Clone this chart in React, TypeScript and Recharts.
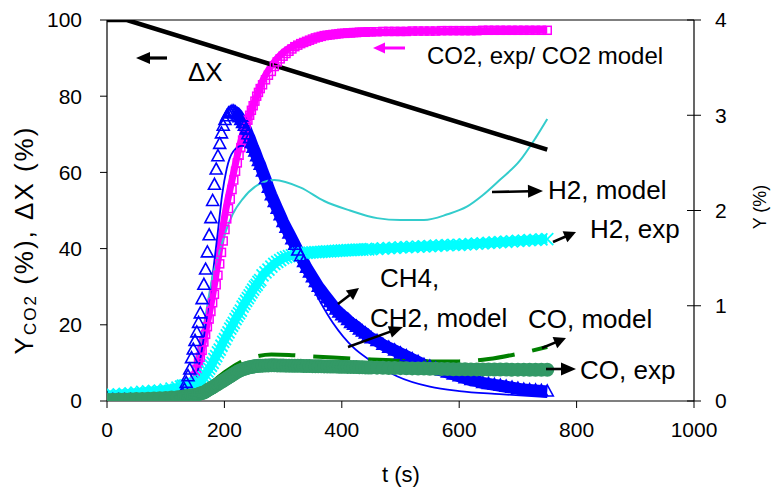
import React from 'react';
import { ComposedChart, Line, XAxis, YAxis, ReferenceLine } from 'recharts';

const FONT = "'Liberation Sans', Arial, Helvetica, sans-serif";

// ---- axes ----
const xTicks = [0, 200, 400, 600, 800, 1000];
const leftTicks = [0, 20, 40, 60, 80, 100];
const rightTicks = [0, 1, 2, 3, 4];

// ---- experimental sampling times (s) ----
const expT = [
  0, 10, 20, 30, 40, 50, 60, 70, 80, 90, 100, 110, 120,
  126, 129, 132, 135, 138, 141, 144, 147, 150, 153, 156, 159, 162, 165, 168, 171, 174, 177, 180, 183, 186, 189,
  192, 195, 198, 201, 204, 207, 210, 213, 216, 219, 222, 225, 228, 231, 234, 237, 240, 243, 246, 249, 252, 255, 258, 261,
  265, 270, 275, 280, 285, 290, 295, 300, 305, 310, 315, 320, 325, 330, 335, 340, 345, 350, 355, 360, 365, 370, 375,
  380, 385, 390, 395, 400, 405, 410, 415, 420, 425, 430, 435, 440, 445, 450,
  460, 470, 480, 490, 500, 510, 520, 530, 540, 550, 560, 570, 580, 590, 600, 610, 620, 630, 640, 650, 660, 670, 680,
  690, 700, 710, 720, 730, 740, 750,
];

// CO2 yield, exp (%; left axis)
const co2Exp = [
  0, 0, 0, 0, 0, 0, 0, 0, 0, 0, 0, 0, 0.1,
  0.2, 0.4, 0.7, 1.1, 1.6, 2.4, 3.5, 4.8, 6.5, 8.3, 10, 11.5, 13.3, 15.5, 17.5, 19.5, 21.5, 23.5, 25.8, 28, 30.5, 33,
  36, 39, 42, 45, 47.8, 50.5, 53, 55.5, 58, 60.3, 62.5, 64.5, 66.5, 68.5, 70.2, 72, 73.7, 75, 76.3, 77.5, 78.7, 80, 81, 82,
  83, 84.3, 85.5, 86.5, 87.8, 89, 89.8, 90.5, 91.2, 91.8, 92.4, 93, 93.4, 93.8, 94.1, 94.4, 94.7, 95, 95.3, 95.5, 95.7,
  95.9, 96, 96.1, 96.2, 96.3, 96.4, 96.5, 96.5, 96.6, 96.6, 96.7, 96.7, 96.8, 96.8, 96.8, 96.9, 96.9,
  96.9, 97, 97, 97, 97, 97, 97.1, 97.1, 97.1, 97.1, 97.1, 97.2, 97.2, 97.2, 97.2, 97.2, 97.2, 97.2, 97.3, 97.3, 97.3,
  97.3, 97.3, 97.3, 97.3, 97.3, 97.3, 97.3, 97.3, 97.3,
];

// CH4 yield, exp (%; right axis)
const ch4Exp = [
  0.01, 0.01, 0.01, 0.01, 0.01, 0.01, 0.01, 0.01, 0.01, 0.01, 0.01, 0.01, 0.01,
  0.04, 0.07, 0.12, 0.19, 0.26, 0.33, 0.45, 0.54, 0.63, 0.72, 0.82, 0.92, 1.07, 1.22, 1.38, 1.56, 1.74, 1.92, 2.1, 2.27,
  2.43, 2.57, 2.7, 2.81, 2.89, 2.95, 2.99, 3.02, 3.03, 3.04, 3.04, 3.03, 3.01, 2.98, 2.95, 2.92, 2.89, 2.85, 2.8, 2.76,
  2.71, 2.66, 2.62, 2.57, 2.52, 2.48,
  2.41, 2.33, 2.24, 2.16, 2.09, 2.02, 1.95, 1.88, 1.82, 1.76, 1.7, 1.64, 1.58, 1.52, 1.46, 1.4, 1.35, 1.3, 1.25, 1.2,
  1.16, 1.12, 1.08, 1.04, 1.0, 0.96, 0.93, 0.9, 0.88, 0.85, 0.82, 0.8, 0.78, 0.75, 0.73, 0.71, 0.68, 0.66,
  0.63, 0.59, 0.56, 0.53, 0.5, 0.47, 0.44, 0.41, 0.38, 0.36, 0.34, 0.32, 0.3, 0.28, 0.26, 0.24, 0.22, 0.21, 0.19, 0.18,
  0.17, 0.16, 0.15, 0.14, 0.13, 0.12, 0.115, 0.11, 0.105, 0.1,
];

// H2 yield, exp (%; right axis)
const h2Exp = [
  0.06, 0.065, 0.07, 0.075, 0.08, 0.088, 0.095, 0.1, 0.105, 0.11, 0.12, 0.13, 0.14,
  0.15, 0.16, 0.16, 0.165, 0.17, 0.17, 0.175, 0.18, 0.18, 0.19, 0.195, 0.2, 0.22, 0.25, 0.28, 0.31, 0.34, 0.37, 0.4,
  0.44, 0.47, 0.51, 0.54, 0.58, 0.62, 0.65, 0.69, 0.72, 0.76, 0.79, 0.82, 0.86, 0.89, 0.92, 0.95, 0.99, 1.02, 1.05,
  1.08, 1.11, 1.14, 1.17, 1.2, 1.22, 1.25, 1.27,
  1.32, 1.35, 1.38, 1.41, 1.44, 1.46, 1.48, 1.5, 1.51, 1.52, 1.53, 1.54, 1.545, 1.55, 1.553, 1.556, 1.558, 1.56, 1.562,
  1.564, 1.566, 1.568, 1.57, 1.572, 1.574, 1.576, 1.578, 1.58, 1.582, 1.583, 1.585, 1.586, 1.588, 1.589, 1.59, 1.592,
  1.593, 1.595,
  1.598, 1.601, 1.604, 1.608, 1.612, 1.615, 1.618, 1.621, 1.624, 1.627, 1.63, 1.633, 1.636, 1.638, 1.64, 1.644, 1.648,
  1.652, 1.656, 1.66, 1.664, 1.668, 1.672, 1.676, 1.68, 1.684, 1.688, 1.692, 1.696, 1.7,
];

// CO yield, exp (%; right axis)
const coExp = [
  0.012, 0.013, 0.015, 0.016, 0.018, 0.02, 0.022, 0.024, 0.026, 0.029, 0.032, 0.036, 0.04,
  0.043, 0.045, 0.047, 0.05, 0.052, 0.055, 0.057, 0.059, 0.06, 0.066, 0.072, 0.078, 0.084, 0.09, 0.1, 0.112, 0.123,
  0.134, 0.145, 0.156, 0.167, 0.178, 0.19, 0.201, 0.212, 0.224, 0.236, 0.248, 0.26, 0.272, 0.284, 0.295, 0.306, 0.316,
  0.324, 0.332, 0.338, 0.344, 0.35, 0.355, 0.358, 0.362, 0.365, 0.367, 0.369, 0.37,
  0.371, 0.372, 0.374, 0.375, 0.375, 0.374, 0.373, 0.372, 0.371, 0.371, 0.37, 0.37, 0.369, 0.369, 0.368, 0.367, 0.367,
  0.366, 0.365, 0.365, 0.364, 0.363, 0.363, 0.362, 0.362, 0.361, 0.36, 0.36, 0.359, 0.358, 0.358, 0.357, 0.356, 0.355,
  0.354, 0.353, 0.352, 0.351,
  0.35, 0.348, 0.347, 0.346, 0.345, 0.344, 0.342, 0.341, 0.34, 0.339, 0.338, 0.336, 0.335, 0.334, 0.333, 0.333, 0.332,
  0.332, 0.331, 0.331, 0.33, 0.33, 0.33, 0.329, 0.329, 0.329, 0.328, 0.328, 0.328, 0.328,
];

// ---- model curves ----
const co2ModelT = [0, 100, 140, 150, 160, 175, 184, 192, 201, 213, 226, 240, 255, 265, 280, 300, 330, 360, 400, 500, 600, 750];
const co2ModelV = [0, 0, 1, 5, 12.5, 23.5, 31.5, 40, 49, 58, 67, 74, 80, 84, 88, 91.5, 94, 95.5, 96.5, 97, 97.2, 97.3];

const ch4ModelT = [0, 130, 140, 150, 160, 170, 180, 190, 196, 204, 215, 230, 245, 260, 280, 300, 340, 385, 420, 450, 494, 550, 600, 669, 750];
const ch4ModelV = [0, 0.012, 0.04, 0.2, 0.48, 0.88, 1.32, 1.84, 2.16, 2.44, 2.62, 2.68, 2.62, 2.44, 2.16, 1.88, 1.32, 0.82, 0.56, 0.42, 0.26, 0.15, 0.104, 0.072, 0.04];

const h2ModelT = [0, 130, 138, 150, 165, 179, 192, 214, 231, 260, 285, 330, 370, 414, 460, 500, 540, 580, 613, 640, 669, 703, 730, 750];
const h2ModelV = [0, 0.04, 0.16, 0.4, 0.8, 1.28, 1.58, 1.96, 2.12, 2.28, 2.32, 2.24, 2.1, 2.0, 1.92, 1.9, 1.9, 1.96, 2.04, 2.16, 2.32, 2.52, 2.76, 2.96];

const coModelT = [0, 140, 160, 180, 200, 225, 250, 280, 310, 350, 400, 450, 500, 550, 600, 650, 700, 750];
const coModelV = [0, 0.02, 0.08, 0.2, 0.3, 0.4, 0.46, 0.488, 0.484, 0.468, 0.452, 0.436, 0.424, 0.416, 0.416, 0.44, 0.496, 0.568];

// conversion ΔX (%; left axis)
const dxT = [0, 34, 750];
const dxV = [100, 100, 66];

const zip = (t: number[], v: number[]) => t.map((x, i) => ({ t: x, v: v[i] }));

const co2ExpData = zip(expT, co2Exp);
const ch4ExpData = zip(expT, ch4Exp);
const ch4ExpTail = ch4ExpData.filter((d) => d.t >= 216);
const h2ExpData = zip(expT, h2Exp);
const coExpData = zip(expT, coExp);
const co2ModelData = zip(co2ModelT, co2ModelV);
const ch4ModelData = zip(ch4ModelT, ch4ModelV);
const h2ModelData = zip(h2ModelT, h2ModelV);
const coModelData = zip(coModelT, coModelV);
const dxData = zip(dxT, dxV);

// ---- marker shapes ----
const SquareDot = (p: any) =>
  p.cx == null ? <g key={`sq${p.index}`} /> : (
    <rect key={`sq${p.index}`} x={p.cx - 4} y={p.cy - 4} width={8} height={8} fill="none" stroke="#ff00ff" strokeWidth={1.5} />
  );
const TriDot = (p: any) =>
  p.cx == null ? <g key={`tr${p.index}`} /> : (
    <polygon key={`tr${p.index}`} points={`${p.cx},${p.cy - 6.5} ${p.cx - 6},${p.cy + 4.5} ${p.cx + 6},${p.cy + 4.5}`} fill="none" stroke="#0000ff" strokeWidth={1.6} />
  );
const CrossDot = (p: any) =>
  p.cx == null ? <g key={`cr${p.index}`} /> : (
    <path key={`cr${p.index}`} d={`M${p.cx - 6},${p.cy - 6}L${p.cx + 6},${p.cy + 6}M${p.cx - 6},${p.cy + 6}L${p.cx + 6},${p.cy - 6}`} stroke="#00ffff" strokeWidth={1.8} fill="none" />
  );
const CircleDot = (p: any) =>
  p.cx == null ? <g key={`ci${p.index}`} /> : (
    <circle key={`ci${p.index}`} cx={p.cx} cy={p.cy} r={7} fill="#339966" stroke="none" />
  );

const RightTick = (props: any) => {
  const { x, y, payload } = props;
  return (
    <g>
      <line x1={x - 7} y1={y} x2={x + 7} y2={y} stroke="#000" strokeWidth={1} />
      <text x={x + 21} y={y} dy="0.355em" fontSize={21} fontFamily={FONT} fill="#000">
        {payload.value}
      </text>
    </g>
  );
};

const Arrow = ({ x1, y1, x2, y2, color = '#000', w = 2.6, head = 13, hw = 6 }: any) => {
  const dx = x2 - x1;
  const dy = y2 - y1;
  const L = Math.hypot(dx, dy);
  const ux = dx / L;
  const uy = dy / L;
  const bx = x2 - ux * head;
  const by = y2 - uy * head;
  const px = -uy;
  const py = ux;
  return (
    <g>
      <line x1={x1} y1={y1} x2={bx + ux * 2} y2={by + uy * 2} stroke={color} strokeWidth={w} />
      <polygon points={`${x2},${y2} ${bx + px * hw},${by + py * hw} ${bx - px * hw},${by - py * hw}`} fill={color} />
    </g>
  );
};

export default function App() {
  return (
    <div style={{ position: 'absolute', left: 0, top: 0, width: 779, height: 487, background: '#fff' }}>
      <ComposedChart width={779} height={487} margin={{ top: 20, right: 25, left: 27, bottom: 26 }}>
        <XAxis
          type="number"
          dataKey="t"
          domain={[0, 1000]}
          ticks={xTicks}
          interval={0}
          allowDataOverflow
          height={60}
          tickSize={7}
          tickMargin={14}
          axisLine={{ stroke: '#000', strokeWidth: 1.2 }}
          tickLine={{ stroke: '#000', strokeWidth: 1 }}
          tick={{ fontSize: 21, fill: '#000', fontFamily: FONT }}
        />
        <YAxis
          yAxisId="left"
          domain={[0, 100]}
          ticks={leftTicks}
          interval={0}
          allowDataOverflow
          width={80}
          tickSize={7}
          tickMargin={18}
          axisLine={{ stroke: '#000', strokeWidth: 1.2 }}
          tickLine={{ stroke: '#000', strokeWidth: 1 }}
          tick={{ fontSize: 21, fill: '#000', fontFamily: FONT }}
        />
        <YAxis
          yAxisId="right"
          orientation="right"
          domain={[0, 4]}
          ticks={rightTicks}
          interval={0}
          allowDataOverflow
          width={60}
          tickSize={0}
          tickMargin={0}
          tickLine={false}
          axisLine={{ stroke: '#000', strokeWidth: 1.2 }}
          tick={<RightTick />}
        />
        <ReferenceLine yAxisId="left" y={100} stroke="#000" strokeWidth={1.2} />

        <Line yAxisId="left" data={co2ModelData} dataKey="v" type="monotone" stroke="#ff00ff" strokeWidth={7} dot={false} activeDot={false} isAnimationActive={false} />
        <Line yAxisId="left" data={co2ExpData} dataKey="v" type="linear" stroke="none" dot={SquareDot} activeDot={false} isAnimationActive={false} />
        <Line yAxisId="right" data={h2ExpData} dataKey="v" type="linear" stroke="#00ffff" strokeWidth={9} dot={CrossDot} activeDot={false} isAnimationActive={false} />
        <Line yAxisId="right" data={ch4ExpTail} dataKey="v" type="linear" stroke="#0000ff" strokeWidth={12} dot={false} activeDot={false} isAnimationActive={false} />
        <Line yAxisId="right" data={ch4ExpData} dataKey="v" type="linear" stroke="none" dot={TriDot} activeDot={false} isAnimationActive={false} />
        <Line yAxisId="right" data={ch4ModelData} dataKey="v" type="monotone" stroke="#0000ff" strokeWidth={1.8} dot={false} activeDot={false} isAnimationActive={false} />
        <Line yAxisId="right" data={coModelData} dataKey="v" type="monotone" stroke="#008000" strokeWidth={4} strokeDasharray="37 18" dot={false} activeDot={false} isAnimationActive={false} />
        <Line yAxisId="right" data={coExpData} dataKey="v" type="linear" stroke="none" dot={CircleDot} activeDot={false} isAnimationActive={false} />
        <Line yAxisId="right" data={h2ModelData} dataKey="v" type="monotone" stroke="#33cccc" strokeWidth={2} dot={false} activeDot={false} isAnimationActive={false} />
        <Line yAxisId="left" data={dxData} dataKey="v" type="linear" stroke="#000" strokeWidth={4.5} dot={false} activeDot={false} isAnimationActive={false} />
      </ComposedChart>

      <svg width={779} height={487} style={{ position: 'absolute', left: 0, top: 0, pointerEvents: 'none' }} fontFamily={FONT}>
        <Arrow x1={167} y1={58} x2={136} y2={58} w={3.2} head={14} hw={6} />
        <text x={188} y={81} fontSize={26} fill="#000">ΔX</text>

        <Arrow x1={405} y1={48} x2={373} y2={48} color="#ff00ff" w={3} head={12} hw={5.5} />
        <text x={427} y={64} fontSize={24} fill="#000">CO2, exp/ CO2 model</text>

        <Arrow x1={492} y1={192} x2={543} y2={191} head={15} hw={6.5} />
        <text x={548} y={199} fontSize={26} fill="#000">H2, model</text>

        <Arrow x1={553} y1={242} x2={576} y2={232} head={12} hw={6} />
        <text x={590} y={238} fontSize={26} fill="#000">H2, exp</text>

        <Arrow x1={338} y1={304} x2={359} y2={288} head={12} hw={6} />
        <text x={380} y={287} fontSize={26} fill="#000">CH4,</text>

        <Arrow x1={348} y1={347} x2={403} y2={327} head={14} hw={6} />
        <text x={370} y={327} fontSize={26} fill="#000">CH2, model</text>

        <Arrow x1={542} y1={348} x2={566} y2={338} head={12} hw={6} />
        <text x={528} y={328} fontSize={26} fill="#000">CO, model</text>

        <Arrow x1={546} y1={369} x2={576} y2={369} head={15} hw={6.5} />
        <text x={580} y={379} fontSize={26} fill="#000">CO, exp</text>

        <text x={401} y={482} fontSize={22} textAnchor="middle" fill="#000">t (s)</text>
        <text transform="translate(33,240) rotate(-90)" textAnchor="middle" fontSize={26} letterSpacing={2} fill="#000">
          Y<tspan fontSize={17} dy={3}>CO2</tspan>
          <tspan dy={-3}> (%), ΔX (%)</tspan>
        </text>
        <text transform="translate(766,207) rotate(-90)" textAnchor="middle" fontSize={18} fill="#000">Y (%)</text>
      </svg>
    </div>
  );
}
